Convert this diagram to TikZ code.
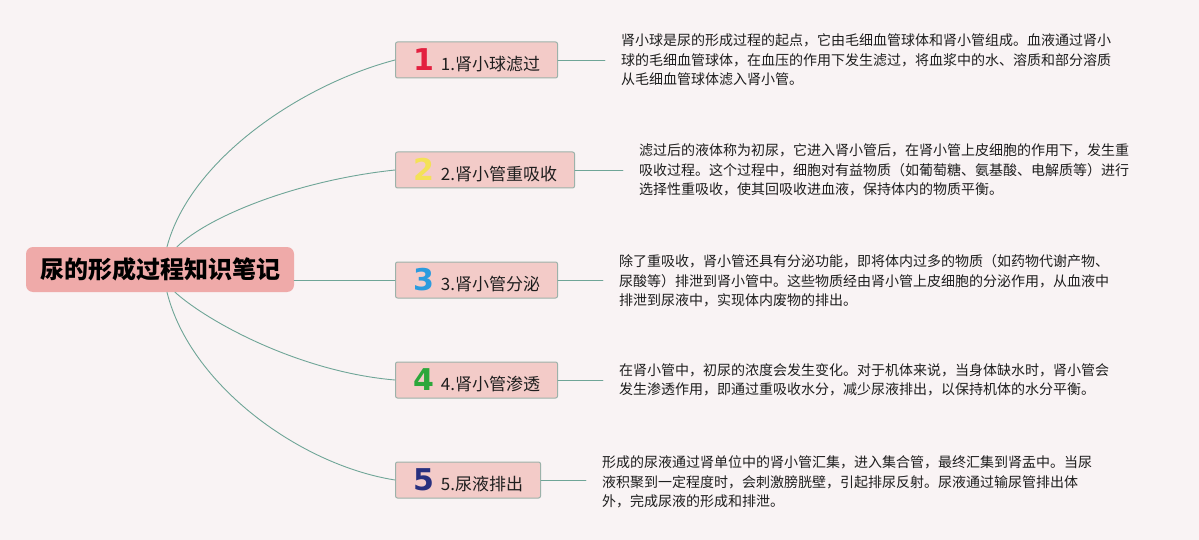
\documentclass[tikz,border=0pt]{standalone}
\usepackage{fontspec}
\setmainfont{Noto Sans CJK SC}
\newfontfamily\numfont{DejaVu Sans}
\usepackage{tikz}
\definecolor{bgpink}{HTML}{F9F3F4}
\definecolor{rootfill}{HTML}{EFAAA9}
\definecolor{boxfill}{HTML}{F3CBC8}
\definecolor{boxline}{HTML}{9CB2AA}
\definecolor{linkteal}{HTML}{6FA597}
\definecolor{textdark}{HTML}{1E1E1E}
\definecolor{numred}{HTML}{E3203F}
\definecolor{numyellow}{HTML}{F4E157}
\definecolor{numblue}{HTML}{2B9BDE}
\definecolor{numgreen}{HTML}{2CA73B}
\definecolor{numnavy}{HTML}{28307F}
\tikzset{
  every picture/.style={
    line join=round,
    line cap=round,
  },
  % topic and subtopic boxes
  rootbox/.style={fill=rootfill, rounded corners=7pt, minimum height=45pt,
    inner xsep=14pt, inner ysep=0pt, text=black,
    font=\fontsize{24}{24}\selectfont\bfseries},
  branch/.style={fill=boxfill, draw=boxline, line width=1pt, rounded corners=2pt,
    minimum height=36pt, inner xsep=17.5pt, inner ysep=0pt, anchor=west,
    text=textdark, font=\fontsize{17}{17}\selectfont},
  note/.style={anchor=west, align=left, inner xsep=16pt, inner ysep=0pt,
    text=textdark, font=\fontsize{14}{19.5}\selectfont},
  link/.style={draw=linkteal, line width=0.9pt},
}

\begin{document}
\begin{tikzpicture}[x=1pt, y=-1pt]
    % Canvas
    \fill[bgpink] (0,0) rectangle (1199,540);
    \useasboundingbox (0,0) rectangle (1199,540);

    % Central topic
    \node[rootbox] (root) at (160,269.5) {尿的形成过程知识笔记};

    % Subtopics (number/row/colour/label)
    \foreach \i/\y/\col/\txt in {1/60/numred/肾小球滤过, 2/170/numyellow/肾小管重吸收,
        3/280/numblue/肾小管分泌, 4/380/numgreen/肾小管渗透, 5/480/numnavy/尿液排出} {
        \node[branch] (b\i) at (395,\y)
            {{\numfont\bfseries\fontsize{30}{30}\selectfont\color{\col}\i}\hspace{7pt}\i.\txt};
    }

    % Notes
    \node[note] (d1) at (605,60) {肾小球是尿的形成过程的起点，它由毛细血管球体和肾小管组成。血液通过肾小\\
        球的毛细血管球体，在血压的作用下发生滤过，将血浆中的水、溶质和部分溶质\\
        从毛细血管球体滤入肾小管。};
    \node[note] (d2) at (623,170) {滤过后的液体称为初尿，它进入肾小管后，在肾小管上皮细胞的作用下，发生重\\
        吸收过程。这个过程中，细胞对有益物质（如葡萄糖、氨基酸、电解质等）进行\\
        选择性重吸收，使其回吸收进血液，保持体内的物质平衡。};
    \node[note] (d3) at (603,281) {除了重吸收，肾小管还具有分泌功能，即将体内过多的物质（如药物代谢产物、\\
        尿酸等）排泄到肾小管中。这些物质经由肾小管上皮细胞的分泌作用，从血液中\\
        排泄到尿液中，实现体内废物的排出。};
    \node[note] (d4) at (603,380) {在肾小管中，初尿的浓度会发生变化。对于机体来说，当身体缺水时，肾小管会\\
        发生渗透作用，即通过重吸收水分，减少尿液排出，以保持机体的水分平衡。};
    \node[note] (d5) at (586,482) {形成的尿液通过肾单位中的肾小管汇集，进入集合管，最终汇集到肾盂中。当尿\\
        液积聚到一定程度时，会刺激膀胱壁，引起排尿反射。尿液通过输尿管排出体\\
        外，完成尿液的形成和排泄。};

    % Root to subtopics
    \draw[link] ([xshift=7pt]root.north) .. controls (190,160) and (300,85) .. (b1.west);
    \draw[link] ([xshift=17pt]root.north) .. controls (210,215) and (300,180) .. (b2.west);
    \draw[link] (root.east |- b3.west) -- (b3.west);
    \draw[link] ([xshift=15pt]root.south) .. controls (208,322) and (300,372) .. (b4.west);
    \draw[link] ([xshift=7pt]root.south) .. controls (190,385) and (300,465) .. (b5.west);

    % Subtopics to notes
    \foreach \i in {1,...,5} {
        \draw[link] (b\i.east) -- (b\i.east -| d\i.west);
    }
\end{tikzpicture}
\end{document}
